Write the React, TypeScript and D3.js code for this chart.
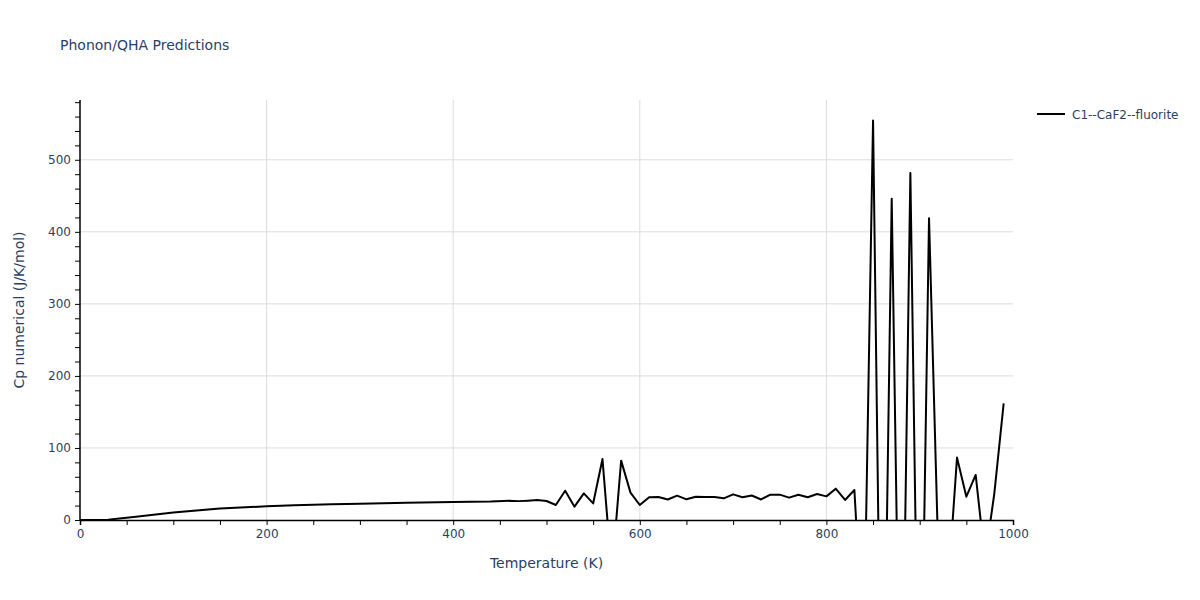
import React, { useEffect, useRef } from 'react'
import * as d3 from 'd3'

// Temperature (K) and Cp numerical (J/K/mol)
const temps = [
  0, 20, 30, 60, 100, 150, 200, 230, 270, 300, 350, 400, 420, 440, 460, 470, 480, 490, 500, 510, 520, 530, 540, 550, 560,
  570, 580, 590, 600, 610, 620, 630, 640, 650, 660, 670, 680, 690, 700, 710, 720, 730, 740, 750, 760, 770, 780, 790, 800,
  810, 820, 830, 840, 850, 860, 870, 880, 890, 900, 910, 920, 930, 940, 950, 960, 970, 980, 990,
]
const cpValues = [
  0, 0, 0.5, 4.5, 10.5, 16, 19, 20.5, 21.8, 22.6, 23.8, 25, 25.5, 25.6, 26.6, 26.2, 26.8, 27.6, 26.4, 20.8, 40.7, 18.5, 37,
  23, 84.7, -75, 82.4, 38, 20.8, 31.5, 32, 28.5, 33.8, 28.7, 32.2, 32, 32, 30.1, 35.6, 31.5, 34, 28.5, 35.2, 35.2, 31, 35,
  31.5, 36, 32.8, 43.5, 27.8, 41.7, -190, 554.6, -430, 446, -395, 481.5, -400, 419, -52, -100, 86.6, 32.4, 62.5, -55, 37,
  162,
]
const xTicks = [0, 200, 400, 600, 800, 1000]
const yTicks = [0, 100, 200, 300, 400, 500]
const seriesName = 'C1--CaF2--fluorite'

const W = 1200
const H = 600
const margin = { top: 100, right: 187, bottom: 80, left: 80 }
const FONT = '"DejaVu Sans", verdana, sans-serif'
const TEXT = '#2a3f5f'

const App = () => {
  const refSvg = useRef<SVGSVGElement>(null)

  useEffect(() => {
    const svg = d3.select(refSvg.current)
    svg.selectAll('*').remove()

    const pw = W - margin.left - margin.right
    const ph = H - margin.top - margin.bottom

    const x = d3.scaleLinear().domain([0, 1000]).range([0, pw])
    const y = d3.scaleLinear().domain([0, 583]).range([ph, 0])

    svg.append('rect').attr('width', W).attr('height', H).attr('fill', '#fff')

    svg
      .append('text')
      .attr('x', 60)
      .attr('y', 50)
      .attr('font-family', FONT)
      .attr('font-size', 14)
      .attr('fill', TEXT)
      .text('Phonon/QHA Predictions')

    svg.append('defs').append('clipPath').attr('id', 'plot-clip').append('rect').attr('width', pw).attr('height', ph)

    const g = svg.append('g').attr('transform', `translate(${margin.left},${margin.top})`)

    // grid
    g.append('g')
      .selectAll('line')
      .data(xTicks.slice(1, -1))
      .join('line')
      .attr('x1', (d) => x(d))
      .attr('x2', (d) => x(d))
      .attr('y1', 0)
      .attr('y2', ph)
      .attr('stroke', '#dcdcdc')
    g.append('g')
      .selectAll('line')
      .data(yTicks.slice(1))
      .join('line')
      .attr('x1', 0)
      .attr('x2', pw)
      .attr('y1', (d) => y(d))
      .attr('y2', (d) => y(d))
      .attr('stroke', '#dcdcdc')

    // line
    const pts = temps.map((t, i) => [t, cpValues[i]] as [number, number])
    g.append('path')
      .datum(pts)
      .attr('clip-path', 'url(#plot-clip)')
      .attr('fill', 'none')
      .attr('stroke', '#000')
      .attr('stroke-width', 2)
      .attr('stroke-linejoin', 'round')
      .attr(
        'd',
        d3
          .line<[number, number]>()
          .x((d) => x(d[0]))
          .y((d) => y(d[1]))
      )

    // x axis
    const xa = g
      .append('g')
      .attr('transform', `translate(0,${ph})`)
      .call(
        d3
          .axisBottom(x)
          .tickValues(d3.range(0, 1001, 50))
          .tickSize(5)
          .tickPadding(4)
          .tickFormat((d) => (xTicks.includes(+d) ? String(d) : ''))
      )
    xa.select('.domain').attr('stroke', '#000').attr('stroke-width', 1.5)
    xa.selectAll('.tick line').attr('stroke', '#000')
    xa.selectAll('.tick text').attr('font-family', FONT).attr('font-size', 12).attr('fill', TEXT)

    // y axis
    const ya = g.append('g').call(
      d3
        .axisLeft(y)
        .tickValues(d3.range(0, 581, 20))
        .tickSize(5)
        .tickPadding(4)
        .tickFormat((d) => (yTicks.includes(+d) ? String(d) : ''))
    )
    ya.select('.domain').attr('stroke', '#000').attr('stroke-width', 1.5).attr('d', `M0,0V${ph}`)
    ya.selectAll('.tick line').attr('stroke', '#000')
    ya.selectAll('.tick text').attr('font-family', FONT).attr('font-size', 12).attr('fill', TEXT)

    // axis titles
    svg
      .append('text')
      .attr('x', margin.left + pw / 2)
      .attr('y', 568)
      .attr('text-anchor', 'middle')
      .attr('font-family', FONT)
      .attr('font-size', 14)
      .attr('fill', TEXT)
      .text('Temperature (K)')
    svg
      .append('text')
      .attr('transform', `translate(24,${margin.top + ph / 2}) rotate(-90)`)
      .attr('text-anchor', 'middle')
      .attr('font-family', FONT)
      .attr('font-size', 14)
      .attr('fill', TEXT)
      .text('Cp numerical (J/K/mol)')

    // legend
    const lg = svg.append('g').attr('transform', 'translate(1037,114)')
    lg.append('line').attr('x1', 0).attr('x2', 28).attr('stroke', '#000').attr('stroke-width', 2)
    lg.append('text')
      .attr('x', 35)
      .attr('y', 4.5)
      .attr('font-family', FONT)
      .attr('font-size', 12)
      .attr('fill', TEXT)
      .text(seriesName)
  }, [])

  return <svg ref={refSvg} width={W} height={H} style={{ position: 'absolute', left: 0, top: 0 }} />
}

export default App
